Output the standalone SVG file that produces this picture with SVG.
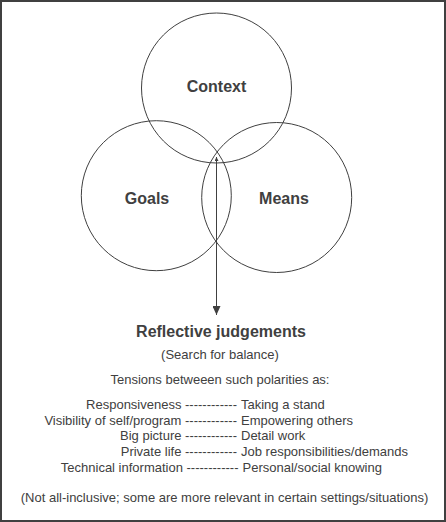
<svg xmlns="http://www.w3.org/2000/svg" width="446" height="522" viewBox="0 0 446 522">
<style>
.c{fill:none;stroke:#404040;stroke-width:1}
.b{font-family:"Liberation Sans",Arial,sans-serif;font-weight:bold;font-size:16px;fill:#404040;text-anchor:middle}
.t{font-family:"Liberation Sans",Arial,sans-serif;font-size:13px;fill:#404040}
.m{text-anchor:middle}
.e{text-anchor:end}
</style>
<defs>
<marker id="ah" markerWidth="9" markerHeight="8" refX="9" refY="4" orient="auto" markerUnits="userSpaceOnUse" viewBox="0 0 9 8"><path d="M0,0 L9,4 L0,8 Z" fill="#404040"/></marker>
<marker id="as" markerWidth="4" markerHeight="4" refX="4" refY="2" orient="auto-start-reverse" markerUnits="userSpaceOnUse" viewBox="0 0 4 4"><path d="M0,0 L4,2 L0,4 Z" fill="#404040"/></marker>
</defs>
<rect x="1" y="1" width="444" height="520" fill="#fff" stroke="#404040" stroke-width="2"/>
<g id="context"><circle class="c" cx="216.5" cy="88" r="75"/><text class="b" x="216.5" y="92">Context</text></g>
<g id="goals"><circle class="c" cx="156.3" cy="195.7" r="75"/><text class="b" x="147" y="204">Goals</text></g>
<g id="means"><circle class="c" cx="276.7" cy="197.5" r="75"/><text class="b" x="284" y="204">Means</text></g>
<g id="connectors"><line x1="216.5" y1="157" x2="216.5" y2="315" stroke="#404040" stroke-width="1" marker-start="url(#as)" marker-end="url(#ah)"/></g>
<g id="reflective">
<text class="b" x="221" y="337">Reflective judgements</text>
<text class="t m" x="220" y="359">(Search for balance)</text>
<text class="t m" x="220" y="384">Tensions betweeen such polarities as:</text>
<text class="t e" x="237" y="408.5">Responsiveness ------------</text><text class="t" x="241" y="408.5">Taking a stand</text>
<text class="t e" x="237" y="424.5">Visibility of self/program ------------</text><text class="t" x="241" y="424.5">Empowering others</text>
<text class="t e" x="237" y="440.3">Big picture ------------</text><text class="t" x="241" y="440.3">Detail work</text>
<text class="t e" x="237" y="456">Private life ------------</text><text class="t" x="241" y="456">Job responsibilities/demands</text>
<text class="t e" x="238.5" y="471.8">Technical information ------------</text><text class="t" x="242.5" y="471.8">Personal/social knowing</text>
<text class="t m" x="224.5" y="502">(Not all-inclusive; some are more relevant in certain settings/situations)</text>
</g>
</svg>
